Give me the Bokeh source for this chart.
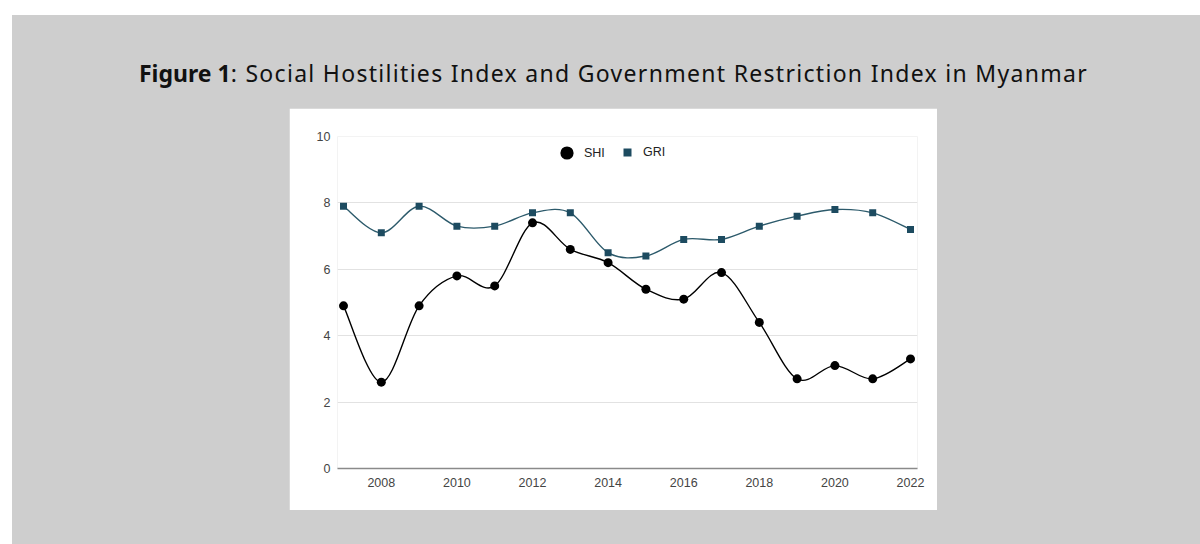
import numpy as np
from bokeh.plotting import figure
from bokeh.models import Div, Legend, LegendItem, FixedTicker, ColumnDataSource
from bokeh.layouts import column
from bokeh.embed import file_html
from bokeh.resources import INLINE

years = [2007, 2008, 2009, 2010, 2011, 2012, 2013, 2014, 2015, 2016, 2017, 2018, 2019, 2020, 2021, 2022]
shi = [4.9, 2.6, 4.9, 5.8, 5.5, 7.4, 6.6, 6.2, 5.4, 5.1, 5.9, 4.4, 2.7, 3.1, 2.7, 3.3]
gri = [7.9, 7.1, 7.9, 7.3, 7.3, 7.7, 7.7, 6.5, 6.4, 6.9, 6.9, 7.3, 7.6, 7.8, 7.7, 7.2]
x_ticks = [2008, 2010, 2012, 2014, 2016, 2018, 2020, 2022]
y_ticks = [0, 2, 4, 6, 8, 10]
title_bold = "Figure 1"
title_rest = ": Social Hostilities Index and Government Restriction Index in Myanmar"

SHI_COLOR = "#000000"
GRI_COLOR = "#1d4b60"
GRI_LINE = "#2c5a6b"


def smooth_segments(xs, ys):
    x = np.asarray(xs, float)
    y = np.asarray(ys, float)
    xp = np.concatenate([[x[0]], x, [x[-1]]])
    yp = np.concatenate([[y[0]], y, [y[-1]]])
    n = len(x)
    cx0 = xp[1:n] + (xp[2:n + 1] - xp[0:n - 1]) / 6
    cy0 = yp[1:n] + (yp[2:n + 1] - yp[0:n - 1]) / 6
    cx1 = xp[2:n + 1] - (xp[3:n + 2] - xp[1:n]) / 6
    cy1 = yp[2:n + 1] - (yp[3:n + 2] - yp[1:n]) / 6
    return dict(x0=x[:-1], y0=y[:-1], x1=x[1:], y1=y[1:],
                cx0=cx0, cy0=cy0, cx1=cx1, cy1=cy1)


p = figure(width=648, height=402, x_range=(2006.841, 2022.185), y_range=(0, 10),
           output_backend="svg", toolbar_location=None,
           min_border_left=48, min_border_right=20, min_border_top=28, min_border_bottom=42,
           background_fill_color="white", border_fill_color="white",
           outline_line_color=None, margin=(0, 0, 0, 277))

p.xgrid.grid_line_color = None
p.ygrid.grid_line_color = "#e2e2e2"
p.ygrid.grid_line_width = 1

p.xaxis.ticker = FixedTicker(ticks=x_ticks)
p.yaxis.ticker = FixedTicker(ticks=y_ticks)
for ax in (p.xaxis, p.yaxis):
    ax.major_tick_line_color = None
    ax.minor_tick_line_color = None
    ax.major_tick_out = 0
    ax.major_tick_in = 0
    ax.minor_tick_out = 0
    ax.major_label_text_font = "Liberation Sans"
    ax.major_label_text_font_size = "12.5px"
    ax.major_label_text_color = "#444444"
p.xaxis.axis_line_color = "#8a8a8a"
p.xaxis.axis_line_width = 1.5
p.yaxis.axis_line_color = None
p.xaxis.major_label_standoff = 9
p.yaxis.major_label_standoff = 7

shi_seg = ColumnDataSource(smooth_segments(years, shi))
gri_seg = ColumnDataSource(smooth_segments(years, gri))
p.bezier(x0="x0", y0="y0", x1="x1", y1="y1", cx0="cx0", cy0="cy0", cx1="cx1", cy1="cy1",
         source=gri_seg, line_color=GRI_LINE, line_width=1.4)
p.bezier(x0="x0", y0="y0", x1="x1", y1="y1", cx0="cx0", cy0="cy0", cx1="cx1", cy1="cy1",
         source=shi_seg, line_color=SHI_COLOR, line_width=1.4)

gri_pts = p.scatter(years, gri, marker="square", size=7, fill_color=GRI_COLOR, line_color=None)
shi_pts = p.scatter(years, shi, marker="circle", size=9, fill_color=SHI_COLOR, line_color=None)

leg1 = Legend(items=[LegendItem(label="SHI", renderers=[shi_pts])],
              location=(213, 299), orientation="horizontal",
              glyph_width=33, glyph_height=33, label_standoff=1,
              padding=0, margin=0, spacing=0,
              border_line_color=None, background_fill_color=None, background_fill_alpha=0,
              label_text_font="Liberation Sans", label_text_font_size="12.5px",
              label_text_color="#222222")
leg2 = Legend(items=[LegendItem(label="GRI", renderers=[gri_pts])],
              location=(280, 306), orientation="horizontal",
              glyph_width=20, glyph_height=20, label_standoff=6,
              padding=0, margin=0, spacing=0,
              border_line_color=None, background_fill_color=None, background_fill_alpha=0,
              label_text_font="Liberation Sans", label_text_font_size="12.5px",
              label_text_color="#222222")
p.add_layout(leg1, "center")
p.add_layout(leg2, "center")

title_html = (
    '<div style="width:1173px; padding-top:47px; font-family:\'Noto Sans\'; font-size:23px; '
    'line-height:23px; color:#111111; text-align:center; white-space:nowrap;">'
    '<b>' + title_bold + '</b><span style="letter-spacing:1.3px;">' + title_rest + '</span></div>'
)
title = Div(text=title_html, width=1173, height=93, margin=(0, 0, 0, 15))

layout = column(title, p, width=1188, height=529, margin=(15, 0, 0, 12),
                styles={"background-color": "#cecece"})

open("out.html", "w").write(file_html(layout, INLINE))
